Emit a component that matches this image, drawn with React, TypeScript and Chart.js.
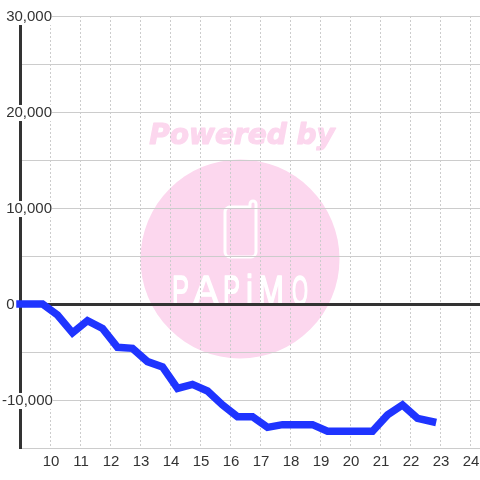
import React, { useEffect, useRef } from "react";
import { Chart, registerables } from "chart.js";

Chart.register(...registerables);

const hours = [9, 9.75, 10.25, 10.75, 11.25, 11.75, 12.25, 12.75, 13.25, 13.75, 14.25, 14.75, 15.25, 15.75, 16.25, 16.75, 17.25, 17.75, 18.25, 18.75, 19.25, 19.75, 20.25, 20.75, 21.25, 21.75, 22.25, 22.75];
const values = [0, 0, -1150, -3000, -1740, -2540, -4510, -4620, -6000, -6560, -8800, -8370, -9060, -10520, -11740, -11740, -12850, -12570, -12570, -12570, -13260, -13260, -13260, -13260, -11560, -10520, -11910, -12260];

const INK = "#333333";
const GRID = "#cccccc";
const PINK = "#fcd7ee";
const FONT = "'Liberation Sans', Arial, sans-serif";
const logoLetters = ["P", "A", "P", "i", "M", "O"];
const logoLeft = [172, 193, 223, 246, 258, 292];
const logoWidth = [17, 26, 17, 7, 26, 16];

const watermark = {
  id: "watermark",
  beforeDraw(chart: any) {
    const c = chart.ctx;
    c.save();
    c.fillStyle = PINK;
    c.strokeStyle = PINK;
    c.beginPath();
    c.arc(240, 259, 99.5, 0, Math.PI * 2);
    c.fill();
    c.font = "italic bold 28px 'DejaVu Sans'";
    c.textAlign = "center";
    c.textBaseline = "middle";
    c.lineWidth = 1.2;
    c.lineJoin = "round";
    c.fillText("Powered by", 242, 137);
    c.strokeText("Powered by", 242, 137);
    c.strokeStyle = "#ffffff";
    c.lineWidth = 3;
    c.lineCap = "round";
    c.beginPath();
    c.moveTo(229, 207);
    c.lineTo(250, 207);
    c.lineTo(250, 204);
    c.arcTo(250, 201, 253, 201, 3);
    c.arcTo(256, 201, 256, 204, 3);
    c.lineTo(256, 252);
    c.arcTo(256, 257, 251, 257, 5);
    c.lineTo(230, 257);
    c.arcTo(225, 257, 225, 252, 5);
    c.lineTo(225, 212);
    c.arcTo(225, 207, 230, 207, 5);
    c.stroke();
    c.fillStyle = "#ffffff";
    c.lineWidth = 1.5;
    c.font = "43px 'Liberation Sans'";
    c.textAlign = "left";
    c.textBaseline = "alphabetic";
    logoLetters.forEach((l, i) => {
      c.fillText(l, logoLeft[i], 305, logoWidth[i]);
      c.strokeText(l, logoLeft[i], 305, logoWidth[i]);
    });
    c.restore();
  },
};

const noPadding = (s: any) => {
  s.paddingLeft = 0;
  s.paddingRight = 0;
  s.paddingTop = 0;
  s.paddingBottom = 0;
};

export default function App() {
  const ref = useRef<HTMLCanvasElement>(null);
  useEffect(() => {
    const chart = new Chart(ref.current!, {
      type: "line",
      data: {
        datasets: [
          {
            data: hours.map((h, i) => ({ x: h, y: values[i] })),
            borderColor: "#1f34ff",
            borderWidth: 7.5,
            borderCapStyle: "square",
            borderJoinStyle: "miter",
            pointRadius: 0,
            tension: 0,
            clip: false,
          },
        ],
      },
      options: {
        responsive: false,
        animation: false,
        layout: { autoPadding: false, padding: { left: 2, top: 16, right: 0, bottom: 0 } },
        plugins: { legend: { display: false }, tooltip: { enabled: false } },
        scales: {
          x: {
            type: "linear",
            min: 9,
            max: 24.3333333,
            afterFit: (s: any) => { s.height = 32; noPadding(s); },
            border: { display: false, dash: [2, 2] },
            grid: {
              drawTicks: false,
              color: (ctx: any) => (ctx.tick && ctx.tick.value === 9 ? "transparent" : GRID),
            },
            ticks: {
              stepSize: 1,
              includeBounds: false,
              autoSkip: false,
              maxRotation: 0,
              padding: 5,
              labelOffset: 1,
              color: INK,
              font: { family: FONT, size: 15 },
              callback: (v: any) => (v === 9 ? "" : String(v)),
            },
          },
          y: {
            min: -15000,
            max: 30000,
            afterFit: (s: any) => { s.width = 18; noPadding(s); },
            border: { display: true, color: INK, width: 3 },
            grid: {
              drawTicks: false,
              color: (ctx: any) => (ctx.tick && ctx.tick.value === 0 ? INK : GRID),
              lineWidth: (ctx: any) => (ctx.tick && ctx.tick.value === 0 ? 3 : 1),
            },
            ticks: {
              stepSize: 5000,
              autoSkip: false,
              mirror: true,
              padding: -18,
              labelOffset: 1,
              color: INK,
              font: { family: FONT, size: 15, lineHeight: 1.07 },
              showLabelBackdrop: (ctx: any) => ctx.tick && ctx.tick.value % 10000 === 0,
              backdropColor: "#ffffff",
              backdropPadding: 0,
              callback: (v: any) => {
                if (v % 10000 !== 0) return "";
                const s = Number(v).toLocaleString("en-US");
                return v < 0 ? s : "\u00a0" + s;
              },
            },
          },
        },
      },
      plugins: [watermark],
    } as any);
    return () => chart.destroy();
  }, []);
  return (
    <canvas
      ref={ref}
      width={480}
      height={480}
      style={{ position: "absolute", left: 0, top: 0, display: "block" }}
    />
  );
}
